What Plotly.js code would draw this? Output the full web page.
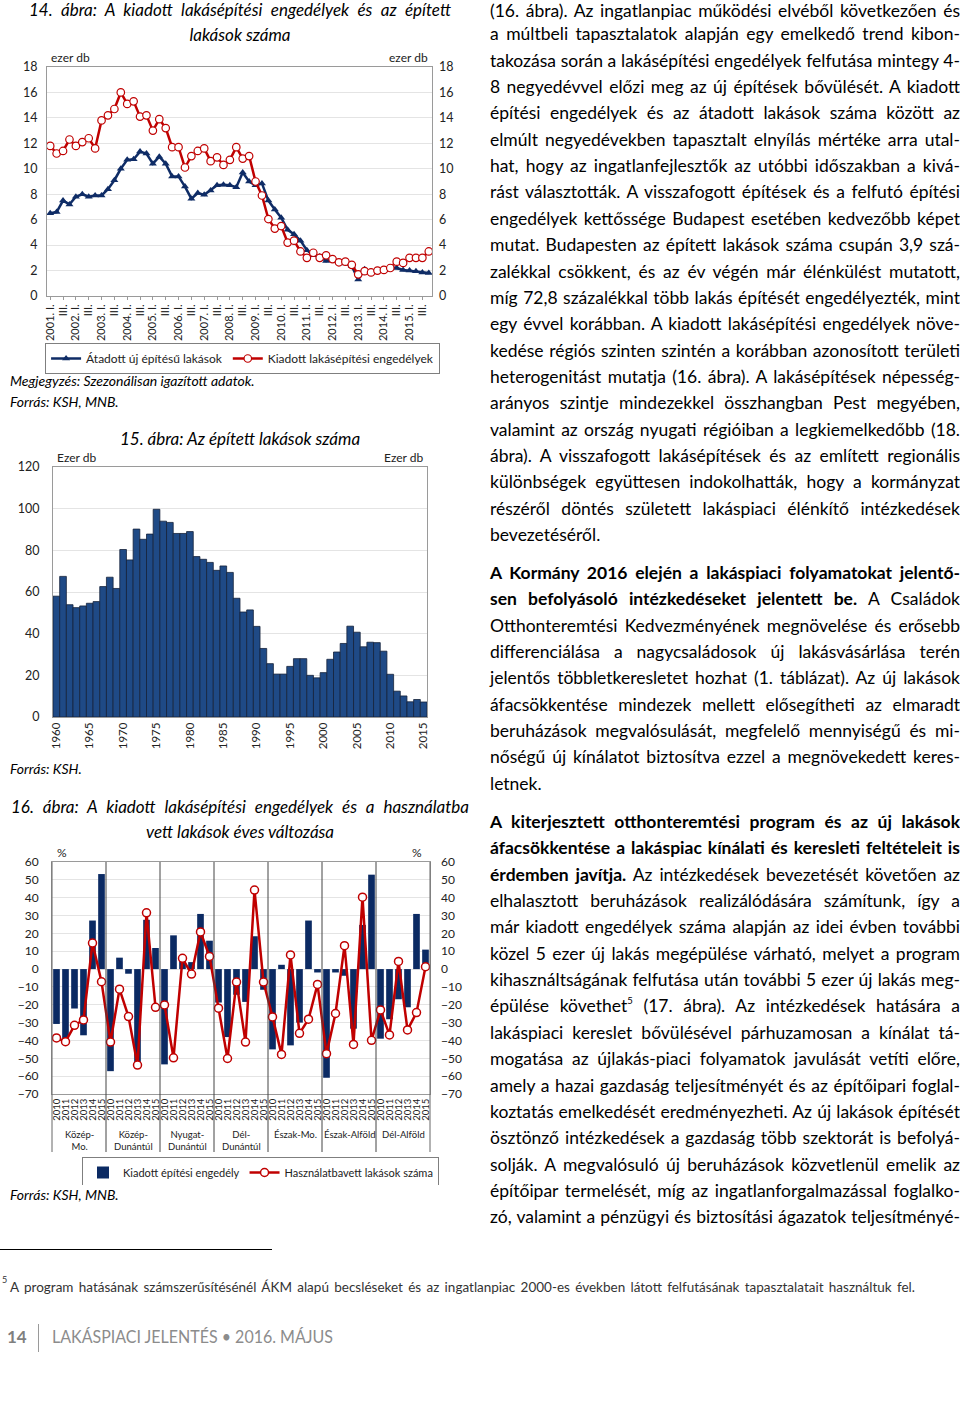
<!DOCTYPE html>
<html><head><meta charset="utf-8">
<script src="https://cdn.plot.ly/plotly-3.0.1.min.js"></script>
<style>
html,body{margin:0;padding:0;background:#fff;}
body{width:960px;height:1408px;position:relative;overflow:hidden;font-family:Lato,'Open Sans',sans-serif;color:#000;}
.abs{position:absolute;}
.ctr{position:absolute;left:0;width:480px;text-align:center;white-space:nowrap;font-style:italic;font-size:17px;line-height:20px;}
.ctr span,.ln span,.fit span{display:inline-block;white-space:nowrap;}
.src{position:absolute;left:10px;font-style:italic;font-size:14px;white-space:nowrap;line-height:18px;}
.ln{position:absolute;left:490px;height:22px;line-height:22px;font-size:17.5px;white-space:nowrap;}
.chart{position:absolute;left:0;width:480px;}
</style></head>
<body>
<div class="ctr" style="top:0px"><span data-w="422" data-mode="justify">14. ábra: A kiadott lakásépítési engedélyek és az épített</span></div>
<div class="ctr" style="top:25px"><span>lakások száma</span></div>
<div id="c14" class="chart" style="top:45px;height:330px"></div>
<div class="src" style="top:372px">Megjegyzés: Szezonálisan igazított adatok.</div>
<div class="src" style="top:393px">Forrás: KSH, MNB.</div>

<div class="ctr" style="top:429px"><span>15. ábra: Az épített lakások száma</span></div>
<div id="c15" class="chart" style="top:450px;height:320px"></div>
<div class="src" style="top:760px">Forrás: KSH.</div>

<div class="ctr" style="top:797px"><span data-w="458" data-mode="justify">16. ábra: A kiadott lakásépítési engedélyek és a használatba</span></div>
<div class="ctr" style="top:822px"><span>vett lakások éves változása</span></div>
<div id="c16" class="chart" style="top:845px;height:340px"></div>
<div class="src" style="top:1186px">Forrás: KSH, MNB.</div>

<div id="textcol"></div>

<div class="abs" style="left:0;top:1249px;width:272px;height:1px;background:#000"></div>
<div class="abs" style="left:2px;top:1274px;font-size:9px;color:#333">5</div>
<div class="abs fit" style="left:10px;top:1279px;font-size:13.5px;line-height:16px;white-space:nowrap;color:#333"><span data-w="905" data-mode="justify">A program hatásának számszerűsítésénél ÁKM alapú becsléseket és az ingatlanpiac 2000-es években látott felfutásának tapasztalatait használtuk fel.</span></div>

<div class="abs" style="left:7px;top:1327px;font-size:17px;font-weight:bold;color:#7f7f7f;line-height:20px">14</div>
<div class="abs" style="left:38px;top:1324px;width:1px;height:28px;background:#9a9a9a"></div>
<div class="abs fit" style="left:52px;top:1327px;font-size:16.5px;color:#8c8c8c;line-height:20px;white-space:nowrap"><span data-w="281" data-mode="exact">LAKÁSPIACI JELENTÉS • 2016. MÁJUS</span></div>

<script>
// ---------------- DATA ----------------
// Chart 14: quarterly, seasonally adjusted, thousand units
const years14 = [2001,2002,2003,2004,2005,2006,2007,2008,2009,2010,2011,2012,2013,2014,2015];
const quarterNames = ['I.','II.','III.','IV.'];
const completions14 = [6.5,6.6,7.5,7.2,7.8,8.0,7.8,7.9,7.9,8.4,9.1,10.0,10.7,10.75,11.35,11.2,10.4,10.95,10.4,9.4,9.4,8.6,7.65,8.1,7.95,8.3,8.7,8.75,8.7,8.55,
  9.7,9.0,8.7,8.85,7.5,6.8,6.15,5.2,4.85,4.35,3.6,3.2,3.1,2.75,2.9,2.65,2.55,2.35,1.3,2.1,1.9,2.0,2.05,2.25,2.2,2.05,2.0,1.95,1.85,1.8];
const permits14 = [11.8,11.2,11.4,12.3,11.8,12.1,12.4,11.6,13.8,14.2,14.7,16.0,15.1,15.3,14.1,14.2,13.0,13.9,13.2,11.7,11.7,10.1,11.0,11.4,11.6,10.6,10.9,10.3,10.7,11.7,
  10.8,11.0,9.0,7.9,6.05,5.3,5.5,4.2,4.35,3.5,3.0,3.4,3.0,3.2,2.9,2.65,2.7,2.45,1.7,1.95,1.85,2.0,2.05,2.2,2.7,2.6,3.0,3.0,3.0,3.5];
const names14 = ['Átadott új építésű lakások','Kiadott lakásépítési engedélyek'];

// Chart 15: annual, thousand units
const years15 = [1960,1961,1962,1963,1964,1965,1966,1967,1968,1969,1970,1971,1972,1973,1974,1975,1976,1977,1978,1979,
  1980,1981,1982,1983,1984,1985,1986,1987,1988,1989,1990,1991,1992,1993,1994,1995,1996,1997,1998,1999,
  2000,2001,2002,2003,2004,2005,2006,2007,2008,2009,2010,2011,2012,2013,2014,2015];
const built15 = [58.0,67.5,53.9,52.5,53.3,54.6,55.4,62.6,67.1,61.7,80.4,75.4,90.2,85.3,87.8,99.7,94.0,93.4,88.1,88.1,
  89.0,77.0,75.7,74.2,70.4,72.5,69.4,57.0,50.4,51.4,43.5,32.9,25.6,20.6,20.6,24.3,28.0,28.0,20.0,18.8,
  21.3,27.7,31.2,35.3,43.6,40.7,33.7,35.9,35.7,31.6,20.5,12.4,10.1,7.3,8.4,7.2];

// Chart 16: annual change, %
const regions16 = ['Közép-<br>Mo.','Közép-<br>Dunántúl','Nyugat-<br>Dunántúl','Dél-<br>Dunántúl','Észak-Mo.','Észak-Alföld','Dél-Alföld'];
const years16 = ['2010','2011','2012','2013','2014','2015'];
const permits16 = [-30.75,-40.7,-22.1,-37.1,27.2,53.25, -57.2,6.4,-2.6,-53.8,27.6,11.8, -53.4,18.9,6.6,3.9,30.9,15.9,
  -18.75,-38.1,-14.4,-18.4,18.4,-11.6, -45,2.4,-42.75,-30,27.2,-1.9, -60.9,-1.9,-3.75,-33.4,24.75,52.9, -39,-28.1,-16.9,-21.4,30.9,10.9];
const used16 = [-38.6,-40.7,-31.5,-28.5,14.6,-7.1, -40.9,-11.25,-26.6,-53.8,31.5,-21.4, -20.1,-49.7,6.0,-2.8,20.8,7.1,
  -21.9,-50.1,-7.3,-40.9,44.25,-7.3, -26.8,-47.8,7.9,-36,-28.1,-8.6, -47.4,-24.9,13.1,-42.2,40.3,-39.9, -22.9,-36.9,4.3,-34.1,-24.4,1.3];
const names16 = ['Kiadott építési engedély','Használatbavett lakások száma'];

// ---------------- STYLE ----------------
const F = 'Lato, Calibri, "Open Sans", sans-serif';
const NAVY = '#0f2c66', RED = '#c00000', BAR15 = '#1f4a86', BAR16 = '#0b2a63';
const AX = '#9a9a9a', GRID = '#e4e4e4';
const cfg = {staticPlot:true, displayModeBar:false};

// ---------------- CHART 14 ----------------
const cats14 = [];
years14.forEach(y => quarterNames.forEach(q => cats14.push(y + '. ' + q)));
const tickvals14 = cats14.filter((c, i) => i % 2 === 0);
const ticktext14 = tickvals14.map(c => c.endsWith(' I.') ? c : c.split(' ')[1]);
const P14 = {l:47, r:48, t:22, b:79, autoexpand:false};
const h14 = 330 - P14.t - P14.b;
Plotly.newPlot('c14', [
  {type:'scatter', mode:'lines+markers', name:names14[0], x:cats14, y:completions14,
   line:{color:NAVY, width:2.5}, marker:{symbol:'triangle-up', size:7, color:NAVY}},
  {type:'scatter', mode:'lines+markers', name:names14[1], x:cats14, y:permits14, yaxis:'y2',
   line:{color:RED, width:2.5}, marker:{symbol:'circle', size:7.5, color:'#fff', line:{color:RED, width:1.2}}}
], {
  width:480, height:330, margin:P14,
  paper_bgcolor:'rgba(0,0,0,0)', plot_bgcolor:'#fff',
  font:{family:F, size:12, color:'#222'},
  showlegend:true,
  legend:{orientation:'h', x:-0.005, xanchor:'left', y:-47/h14, yanchor:'top', bordercolor:'#7f7f7f', borderwidth:1,
          font:{size:12, color:'#222'}, itemwidth:30, traceorder:'normal'},
  xaxis:{type:'category', tickmode:'array', tickvals:tickvals14, ticktext:ticktext14, tickangle:-90, tickfont:{size:11},
         showgrid:false, showline:true, linecolor:AX, mirror:true, ticks:'outside', ticklen:3, tickcolor:AX, range:[-0.5,59.5]},
  yaxis:{range:[0,18], tickmode:'linear', tick0:0, dtick:2, showgrid:true, gridcolor:GRID, showline:true, linecolor:AX,
         mirror:true, zeroline:false, ticks:'', tickfont:{size:12.5}, ticklabelstandoff:6},
  yaxis2:{overlaying:'y', side:'right', range:[0,18], tickmode:'linear', tick0:0, dtick:2, showgrid:false, zeroline:false,
          showline:false, ticks:'', tickfont:{size:12.5}, ticklabelstandoff:6},
  annotations:[
    {xref:'paper', yref:'paper', x:0, y:1, xanchor:'left', yanchor:'bottom', xshift:2, text:'ezer db', showarrow:false, font:{size:12}},
    {xref:'paper', yref:'paper', x:1, y:1, xanchor:'right', yanchor:'bottom', xshift:-2, text:'ezer db', showarrow:false, font:{size:12}}
  ]
}, cfg);

// ---------------- CHART 15 ----------------
const P15 = {l:53, r:53, t:17, b:53, autoexpand:false};
Plotly.newPlot('c15', [
  {type:'bar', x:years15, y:built15, marker:{color:BAR15, line:{color:'#15223a', width:0.8}}, showlegend:false}
], {
  width:480, height:320, margin:P15, bargap:0,
  paper_bgcolor:'rgba(0,0,0,0)', plot_bgcolor:'#fff',
  font:{family:F, size:12, color:'#222'},
  xaxis:{range:[1959.5,2015.5], tickmode:'linear', tick0:1960, dtick:5, tickangle:-90, tickfont:{size:11.5},
         showgrid:false, showline:true, linecolor:AX, mirror:true, ticks:'', zeroline:false},
  yaxis:{range:[0,120], tickmode:'linear', tick0:0, dtick:20, showgrid:true, gridcolor:GRID, showline:true, linecolor:AX,
         mirror:true, zeroline:false, ticks:'', tickfont:{size:12.5}, ticklabelstandoff:10},
  yaxis2:{overlaying:'y', side:'right', anchor:'x', range:[0,120], tickmode:'linear', tick0:0, dtick:20, showgrid:false, zeroline:false,
          showline:false, ticks:'', tickfont:{size:12.5}, ticklabelstandoff:10},
  annotations:[
    {xref:'paper', yref:'paper', x:0, y:1, xanchor:'left', yanchor:'bottom', xshift:2, text:'Ezer db', showarrow:false, font:{size:12}},
    {xref:'paper', yref:'paper', x:1, y:1, xanchor:'right', yanchor:'bottom', xshift:-2, text:'Ezer db', showarrow:false, font:{size:12}}
  ]
}, cfg);

// ---------------- CHART 16 ----------------
const cats16 = [], tick16 = [];
regions16.forEach(r => years16.forEach(y => { cats16.push(r.replace('<br>','') + ' ' + y); tick16.push(y); }));
const P16 = {l:52, r:50, t:17, b:91, autoexpand:false};
const h16 = 340 - P16.t - P16.b;
const n16 = years16.length;
const sepShapes = [];
for (let k = 1; k < regions16.length; k++) {
  sepShapes.push({type:'line', xref:'x', yref:'paper', x0:k*n16-0.5, x1:k*n16-0.5, y0:1, y1:-58/h16, line:{color:'#444', width:1}, layer:'above'});
}
[0,1].forEach(px => sepShapes.push({type:'line', xref:'paper', yref:'paper', x0:px, x1:px, y0:1, y1:-58/h16, line:{color:'#666', width:1}}));
const regionAnn = regions16.map((r, k) => ({xref:'x', yref:'paper', x:k*n16 + (n16-1)/2, y:-33/h16, yanchor:'top',
  text:r, showarrow:false, font:{size:9.5, color:'#222'}}));
Plotly.newPlot('c16', [
  {type:'bar', name:names16[0], x:cats16, y:permits16, marker:{color:BAR16}},
  {type:'scatter', mode:'lines+markers', name:names16[1], x:cats16, y:used16, yaxis:'y2',
   line:{color:RED, width:2.5}, marker:{symbol:'circle', size:8, color:'#fff', line:{color:RED, width:1.5}}}
], {
  width:480, height:340, margin:P16, bargap:0.26,
  paper_bgcolor:'rgba(0,0,0,0)', plot_bgcolor:'#fff',
  font:{family:F, size:12, color:'#222'},
  showlegend:true,
  legend:{orientation:'h', x:30/378, xanchor:'left', y:-63/h16, yanchor:'top', bordercolor:'#7f7f7f', borderwidth:1,
          font:{size:11, color:'#222'}, itemwidth:30, traceorder:'normal'},
  xaxis:{type:'category', tickmode:'array', tickvals:cats16, ticktext:tick16, tickangle:-90, tickfont:{size:9.5},
         showgrid:false, showline:true, linecolor:AX, mirror:true, ticks:'', range:[-0.5, cats16.length-0.5]},
  yaxis:{range:[-70,60], tickmode:'linear', tick0:0, dtick:10, showgrid:true, gridcolor:GRID, showline:true, linecolor:AX,
         mirror:true, zeroline:false, ticks:'', tickfont:{size:12}, ticklabelstandoff:10},
  yaxis2:{overlaying:'y', side:'right', range:[-70,60], tickmode:'linear', tick0:0, dtick:10, showgrid:false, zeroline:false,
          showline:false, ticks:'', tickfont:{size:12}, ticklabelstandoff:10},
  shapes:sepShapes,
  annotations:[
    {xref:'paper', yref:'paper', x:0, y:1, xanchor:'left', yanchor:'bottom', xshift:3, text:'%', showarrow:false, font:{size:12}},
    {xref:'paper', yref:'paper', x:1, y:1, xanchor:'right', yanchor:'bottom', xshift:-6, text:'%', showarrow:false, font:{size:12}}
  ].concat(regionAnn)
}, cfg);

// ---------------- BODY TEXT ----------------
const para1 = [
 '(16. ábra). Az ingatlanpiac működési elvéből következően és',
 'a múltbeli tapasztalatok alapján egy emelkedő trend kibon-',
 'takozása során a lakásépítési engedélyek felfutása mintegy 4-',
 '8 negyedévvel előzi meg az új építések bővülését. A kiadott',
 'építési engedélyek és az átadott lakások száma között az',
 'elmúlt negyedévekben tapasztalt elnyílás mértéke arra utal-',
 'hat, hogy az ingatlanfejlesztők az utóbbi időszakban a kivá-',
 'rást választották. A visszafogott építések és a felfutó építési',
 'engedélyek kettőssége Budapest esetében kedvezőbb képet',
 'mutat. Budapesten az épített lakások száma csupán 3,9 szá-',
 'zalékkal csökkent, és az év végén már élénkülést mutatott,',
 'míg 72,8 százalékkal több lakás építését engedélyezték, mint',
 'egy évvel korábban. A kiadott lakásépítési engedélyek növe-',
 'kedése régiós szinten szintén a korábban azonosított területi',
 'heterogenitást mutatja (16. ábra). A lakásépítések népesség-',
 'arányos szintje mindezekkel összhangban Pest megyében,',
 'valamint az ország nyugati régióiban a legkiemelkedőbb (18.',
 'ábra). A visszafogott lakásépítések és az említett regionális',
 'különbségek együttesen indokolhatták, hogy a kormányzat',
 'részéről döntés született lakáspiaci élénkítő intézkedések',
 'bevezetéséről.'
];
const para2 = [
 '<b>A Kormány 2016 elején a lakáspiaci folyamatokat jelentő-</b>',
 '<b>sen befolyásoló intézkedéseket jelentett be.</b> A Családok',
 'Otthonteremtési Kedvezményének megnövelése és erősebb',
 'differenciálása a nagycsaládosok új lakásvásárlása terén',
 'jelentős többletkeresletet hozhat (1. táblázat). Az új lakások',
 'áfacsökkentése mindezek mellett elősegítheti az elmaradt',
 'beruházások megvalósulását, megfelelő mennyiségű és mi-',
 'nőségű új kínálatot biztosítva ezzel a megnövekedett keres-',
 'letnek.'
];
const para3 = [
 '<b>A kiterjesztett otthonteremtési program és az új lakások</b>',
 '<b>áfacsökkentése a lakáspiac kínálati és keresleti feltételeit is</b>',
 '<b>érdemben javítja.</b> Az intézkedések bevezetését követően az',
 'elhalasztott beruházások realizálódására számítunk, így a',
 'már kiadott engedélyek száma alapján az idei évben további',
 'közel 5 ezer új lakás megépülése várható, melyet a program',
 'kihasználtságának felfutása után további 5 ezer új lakás meg-',
 'épülése követhet<sup style="font-size:9.5px;line-height:0;vertical-align:8px">5</sup> (17. ábra). Az intézkedések hatására a',
 'lakáspiaci kereslet bővülésével párhuzamosan a kínálat tá-',
 'mogatása az újlakás-piaci folyamatok javulását vetíti előre,',
 'amely a hazai gazdaság teljesítményét és az építőipari foglal-',
 'koztatás emelkedését eredményezheti. Az új lakások építését',
 'ösztönző intézkedések a gazdaság több szektorát is befolyá-',
 'solják. A megvalósuló új beruházások közvetlenül emelik az',
 'építőipar termelését, míg az ingatlanforgalmazással foglalko-',
 'zó, valamint a pénzügyi és biztosítási ágazatok teljesítményé-'
];
const paraStarts = [8, 573, 822];
const paraIsOpenEnd = [false, false, true];
const LH = 26.35, COLW = 470;
const col = document.getElementById('textcol');
[para1, para2, para3].forEach((p, pi) => {
  p.forEach((html, i) => {
    const d = document.createElement('div');
    d.className = 'ln';
    d.style.top = Math.max(0, paraStarts[pi] + i*LH - 11) + 'px';
    const s = document.createElement('span');
    s.innerHTML = html;
    const last = (i === p.length - 1) && !paraIsOpenEnd[pi];
    s.dataset.w = COLW;
    s.dataset.mode = last ? 'max' : 'justify';
    d.appendChild(s);
    col.appendChild(d);
  });
});

function fitAll() {
  document.querySelectorAll('span[data-w]').forEach(s => {
    const W = +s.dataset.w, mode = s.dataset.mode || 'max';
    s.style.wordSpacing = ''; s.style.transform = '';
    const w = s.getBoundingClientRect().width;
    const centered = s.parentElement.classList.contains('ctr');
    s.style.transformOrigin = centered ? '50% 50%' : '0 50%';
    if (w > W || mode === 'exact') {
      s.style.transform = 'scaleX(' + (W / w) + ')';
    } else if (mode === 'justify') {
      const n = (s.textContent.match(/ /g) || []).length;
      if (n > 0) s.style.wordSpacing = ((W - w) / n) + 'px';
    }
  });
}
fitAll();
if (document.fonts && document.fonts.ready) document.fonts.ready.then(fitAll);
</script>
</body></html>
